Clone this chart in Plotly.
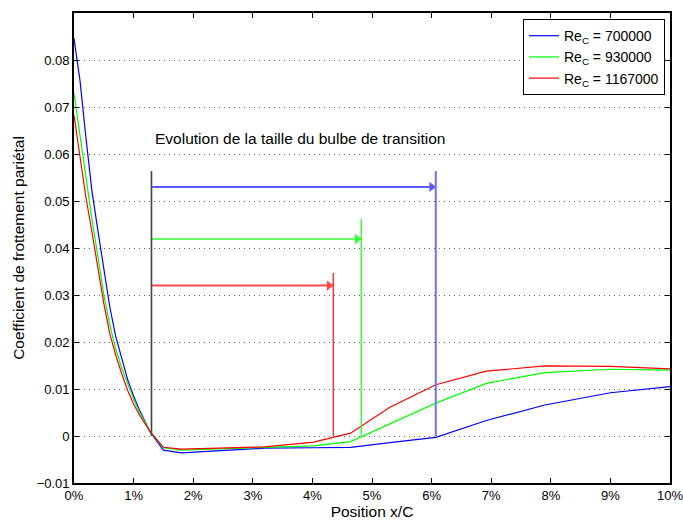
import plotly.graph_objects as go

# ---- data ----
x_pos = [0, 0.1, 0.2, 0.3, 0.4, 0.5, 0.6, 0.7, 0.8, 0.9, 1.0, 1.1, 1.28, 1.5, 1.8,
         3.2, 4.02, 4.64, 5.3, 6.07, 6.92, 7.9, 9.0, 10.0]
cf_700000 = [0.0846, 0.0757, 0.0635, 0.0522, 0.0438, 0.0355, 0.0275, 0.0212, 0.0163, 0.0120,
             0.0085, 0.0055, 0.0008, -0.0030, -0.0036, -0.0026, -0.0025, -0.0024, -0.0014,
             -0.0003, 0.0033, 0.0066, 0.0092, 0.0105]
cf_930000 = [0.0729, 0.0640, 0.0548, 0.0462, 0.0383, 0.0300, 0.0237, 0.0185, 0.0145, 0.0110,
             0.0078, 0.0050, 0.0009, -0.0025, -0.0030, -0.0024, -0.0021, -0.0012, 0.0026,
             0.0070, 0.0112, 0.0135, 0.0142, 0.0140]
cf_1167000 = [0.0683, 0.0592, 0.0508, 0.0435, 0.0358, 0.0282, 0.0218, 0.0172, 0.0133, 0.0097,
              0.0068, 0.0044, 0.0009, -0.0024, -0.0028, -0.0023, -0.0013, 0.0006, 0.0061,
              0.0109, 0.0138, 0.0149, 0.0148, 0.0143]
series_names = ["Re<sub>C</sub> = 700000", "Re<sub>C</sub> = 930000", "Re<sub>C</sub> = 1167000"]
series_colors = ["#0000ff", "#00ff00", "#ff0000"]

bubble_start = 1.30
bubble_start_top = 0.0564
bubble_end = [6.07, 4.82, 4.35]
bubble_end_top = [0.0564, 0.0462, 0.0347]
arrow_y = [0.0530, 0.0419, 0.0320]
bubble_title = "Evolution de la taille du bulbe de transition"

x_ticks = list(range(0, 11))
x_ticklabels = [f"{v}%" for v in x_ticks]
y_ticks = [-0.01, 0, 0.01, 0.02, 0.03, 0.04, 0.05, 0.06, 0.07, 0.08]
y_ticklabels = ["\u22120.01", "0", "0.01", "0.02", "0.03", "0.04", "0.05", "0.06", "0.07", "0.08"]

# ---- figure ----
fig = go.Figure()
for ys, name, col in zip([cf_700000, cf_930000, cf_1167000], series_names, series_colors):
    fig.add_trace(go.Scatter(x=x_pos, y=ys, mode="lines", name=name,
                             line=dict(color=col, width=1.2)))

# horizontal arrows: line + triangular head at the end
acols = ["#5a5aff", "#33ff33", "#ff4a4a"]
awid = [2, 1.5, 2]
head_offset = 0.07  # pull the head's centre back so its tip touches the end line
for xe, ya, c, w in zip(bubble_end, arrow_y, acols, awid):
    fig.add_trace(go.Scatter(x=[bubble_start, xe], y=[ya, ya], mode="lines",
                             line=dict(color=c, width=w), showlegend=False, hoverinfo="skip"))
    fig.add_trace(go.Scatter(x=[xe - head_offset], y=[ya], mode="markers",
                             marker=dict(symbol="triangle-right", size=9, color=c,
                                         line=dict(width=0)),
                             showlegend=False, hoverinfo="skip"))

shapes = [dict(type="line", xref="x", yref="y", x0=bubble_start, x1=bubble_start,
               y0=0, y1=bubble_start_top, line=dict(color="#444444", width=1.6))]
vcols = ["#6f6fff", "#22ff22", "#ff2020"]
vwid = [2, 1.3, 1.3]
for xe, yt, c, w in zip(bubble_end, bubble_end_top, vcols, vwid):
    shapes.append(dict(type="line", xref="x", yref="y", x0=xe, x1=xe, y0=0, y1=yt,
                       line=dict(color=c, width=w)))

annotations = [dict(x=bubble_start + 0.03, y=0.0634, xref="x", yref="y", text=bubble_title,
                    showarrow=False, xanchor="left", yanchor="middle",
                    font=dict(family="Liberation Sans, Arial, sans-serif", size=15.5, color="black"))]

font_family = "Liberation Sans, Arial, sans-serif"
fig.update_layout(
    width=683, height=521,
    margin=dict(l=74, r=13, t=13, b=38),
    paper_bgcolor="white", plot_bgcolor="white",
    font=dict(family=font_family, size=13, color="black"),
    shapes=shapes, annotations=annotations,
    showlegend=True,
    legend=dict(x=0.9916, y=0.987, xanchor="right", yanchor="top",
                bgcolor="white", bordercolor="black", borderwidth=1,
                font=dict(family=font_family, size=14, color="black"),
                tracegroupgap=0, itemwidth=30),
)
fig.update_xaxes(
    range=[0, 10], tickvals=x_ticks, ticktext=x_ticklabels,
    ticks="inside", ticklen=5, tickcolor="black", tickwidth=1,
    showline=True, linecolor="black", linewidth=1.6, mirror="ticks",
    showgrid=False, zeroline=False, automargin=False, ticklabeloverflow="allow",
    title=dict(text="Position x/C", font=dict(size=15.5), standoff=0),
    tickfont=dict(size=13),
)
fig.update_yaxes(
    range=[-0.01, 0.09], tickvals=y_ticks, ticktext=y_ticklabels,
    ticks="inside", ticklen=5, tickcolor="black", tickwidth=1,
    showline=True, linecolor="black", linewidth=1.6, mirror="ticks",
    showgrid=True, gridcolor="#666666", gridwidth=1, griddash="1px,4px",
    zeroline=False, automargin=False, ticklabeloverflow="allow",
    title=dict(text="Coefficient de frottement pariétal", font=dict(size=15.5), standoff=8),
    tickfont=dict(size=13),
)

fig.write_html("out.html", config={"displayModeBar": False},
               post_script="document.body.style.margin='0px';")
